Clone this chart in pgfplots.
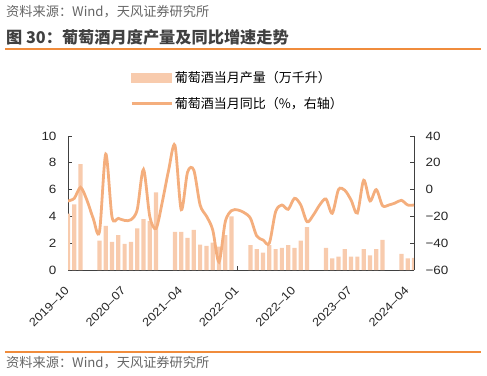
\documentclass[border=0pt]{standalone}
\usepackage{pgfplots}
\pgfplotsset{compat=1.18}
\usepackage{pgfplotstable}
\usepackage{fontspec}
\setmainfont{Liberation Sans}[FakeStretch=1.12]
\newfontfamily\cjk{Noto Sans CJK SC}
\definecolor{barc}{RGB}{248,203,173}
\definecolor{linec}{RGB}{244,174,125}
\definecolor{rulec}{RGB}{240,140,60}
\definecolor{axc}{RGB}{64,64,64}

\pgfplotstableread{
i v
0 4.2
1 4.9
2 7.9
5 2.2
6 3.3
7 2.1
8 2.6
9 1.95
10 2.1
11 3.1
12 3.8
13 3.65
14 5.8
17 2.85
18 2.85
19 2.4
20 3.0
21 1.9
22 1.8
23 2.05
24 1.75
25 2.6
26 4.0
29 1.85
30 1.55
31 1.3
32 1.85
33 1.55
34 1.65
35 1.85
36 1.65
37 2.2
38 3.2
41 1.65
42 0.87
43 1.0
44 1.55
45 1.0
46 1.0
47 1.55
48 1.1
49 1.55
50 2.25
53 1.2
54 0.87
55 0.9
}\prodtable

\pgfplotstableread{
i r
0 -8.5
1 -6.5
2 1.7
3 -7.8
4 -21.4
5 -31.5
6 26.5
7 -20.5
8 -21.5
9 -23
10 -22.5
11 -15
12 15
13 -20
14 -29
15 -9
16 14.6
17 33
18 -15
19 13
20 14.5
21 -11.5
22 -19.7
23 -30
24 -54
25 -24
26 -15.7
27 -15.2
28 -17.2
29 -21.4
30 -34.6
31 -37.6
32 -40
33 -16.5
34 -11.5
35 -14.7
36 -6.5
37 -11.5
38 -24
39 -19
40 -11.5
41 -7
42 -17.7
43 0
44 -0.5
45 -7.8
46 -17.5
47 7
48 -8.5
49 0
50 -12
51 -11.5
52 -10
53 -8
54 -11.5
55 -11.5
}\yoytable

\begin{document}
\begin{tikzpicture}
\path[use as bounding box] (0pt,0pt) rectangle (487pt,375pt);
\node[anchor=west, text=black!60, font=\cjk\fontsize{13.2}{15}\selectfont, inner sep=0pt] at (6pt,363pt) {资料来源：Wind，天风证券研究所};
\node[anchor=west, text=black!75, font=\cjk\bfseries\fontsize{16.2}{19}\selectfont, inner sep=0pt] at (6pt,338pt) {图 30：葡萄酒月度产量及同比增速走势};
\draw[rulec, line width=1.2pt] (5pt,326pt) -- (481pt,326pt);
\draw[rulec, line width=1.2pt] (5pt,23pt) -- (481pt,23pt);
\node[anchor=west, text=black!60, font=\cjk\fontsize{13.2}{15}\selectfont, inner sep=0pt] at (6pt,12pt) {资料来源：Wind，天风证券研究所};

\begin{axis}[
  at={(68pt,105pt)}, anchor=south west, scale only axis,
  width=346pt, height=134pt,
  xmin=0, xmax=55, ymin=0, ymax=10,
  axis x line*=bottom, axis y line*=left,
  ytick={0,2,...,10},
  xtick={0,9,...,54},
  xticklabels={2019--10,2020--07,2021--04,2022--01,2022--10,2023--07,2024--04},
  x tick label style={xshift=-4pt, yshift=-11pt, rotate=45, anchor=north east, font=\fontsize{11.6}{13}\selectfont},
  tick align=inside, major tick length=4pt,
  axis line style={axc, line width=0.8pt},
  tick style={axc, line width=0.8pt},
  ticklabel style={font=\fontsize{12}{14}\selectfont, text=black!85},
  /pgf/number format/assume math mode=true,
  yticklabel style={xshift=-8pt},
  legend cell align=left,
  legend style={draw=none, fill=none, at={(0.1705,1.51)}, anchor=north west,
    font=\cjk\fontsize{13}{15}\selectfont, row sep=9pt},
]
\addplot[ybar, bar width=4.2pt, fill=barc, draw=none, forget plot] table[x=i,y=v] {\prodtable};
\addlegendimage{legend image code/.code={\fill[barc] (0pt,-4.5pt) rectangle (40pt,4.5pt);}}
\addlegendentry{葡萄酒当月产量（万千升）}
\addlegendimage{legend image code/.code={\draw[linec, line width=2.8pt] (0pt,0pt) -- (40pt,0pt);}}
\addlegendentry{葡萄酒当月同比（\%，右轴）}
\end{axis}

\begin{axis}[
  at={(68pt,105pt)}, anchor=south west, scale only axis,
  width=346pt, height=134pt,
  xmin=0, xmax=55, ymin=-60, ymax=40,
  axis y line*=right, axis x line=none,
  ytick={-60,-40,...,40},
  yticklabels={−60,−40,−20,0,20,40},
  tick align=inside, major tick length=4pt,
  axis line style={axc, line width=0.8pt},
  tick style={axc, line width=0.8pt},
  ticklabel style={font=\fontsize{12}{14}\selectfont, text=black!85},
  yticklabel style={xshift=8pt},
]
\addplot[linec, line width=2.8pt, smooth, tension=0.5, no markers] table[x=i,y=r] {\yoytable};
\end{axis}
\end{tikzpicture}
\end{document}
